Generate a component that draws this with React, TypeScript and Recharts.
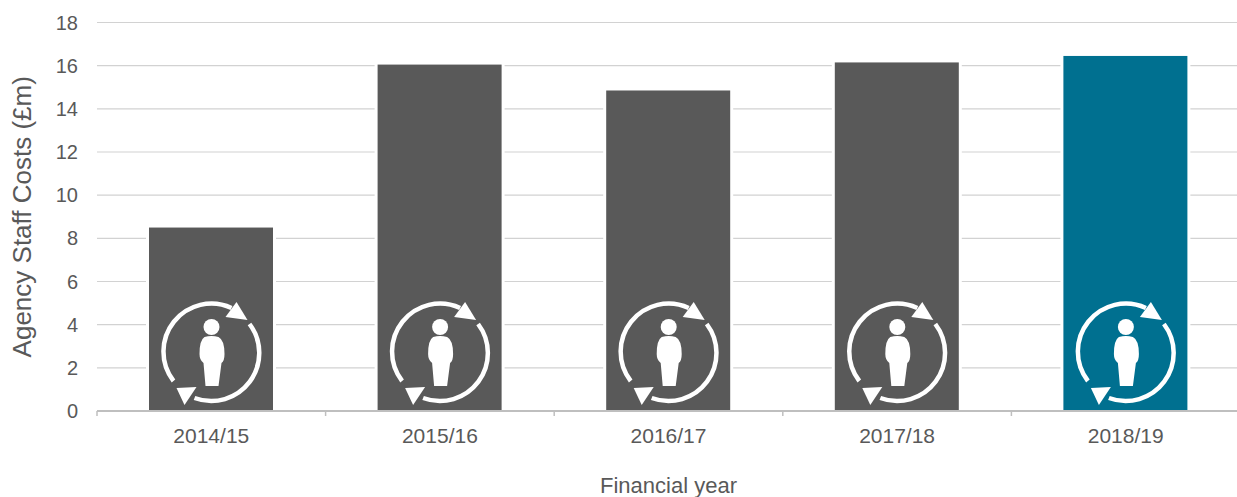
import React from "react";
import { BarChart, Bar, XAxis, YAxis, CartesianGrid, Label } from "recharts";

const years = ["2014/15", "2015/16", "2016/17", "2017/18", "2018/19"];
const costs = [8.5, 16.05, 14.85, 16.15, 16.45];
const barColors = ["#595959", "#595959", "#595959", "#595959", "#007090"];
const yTicks = [0, 2, 4, 6, 8, 10, 12, 14, 16, 18];

const data = years.map((year, i) => ({ year, cost: costs[i], color: barColors[i] }));

const CHART_W = 1240;
const LEFT = 97;
const STEP = (CHART_W - LEFT) / years.length;
const TEXT = "#595959";
const FONT = "'Liberation Sans', Arial, sans-serif";

// staff turnover pictogram: person inside two chasing arrows
function StaffIcon({ cx, cy }: { cx: number; cy: number }) {
  return (
    <g transform={`translate(${cx},${cy})`} fill="#fff" stroke="none">
      <circle cx={0} cy={-25} r={8} />
      <path d="M-7,-15 Q0,-17 7,-15 Q13,-12 13,2 Q13,9 10,11 L7,34 L-6,34 L-8,11 Q-12,8 -12,2 Q-12,-12 -7,-15 Z" />
      <g fill="none" stroke="#fff" strokeWidth={4.5}>
        <path d="M-38,29 A48,48 0 0 1 20,-44" />
        <path d="M38,-28 A48,48 0 0 1 -17,46" />
      </g>
      <path d="M36,-32 L25,-50 L14,-35 Z" />
      <path d="M-35,36 L-15,35 L-27,53 Z" />
    </g>
  );
}

function IconBar(props: any) {
  const { x, y, width, height, payload } = props;
  const bottom = y + height;
  return (
    <g>
      {/* white gap where the gridlines meet the bar */}
      <rect x={x - 3} y={y} width={width + 6} height={height - 1} fill="#fff" />
      <rect x={x} y={y} width={width} height={height - 1} fill={payload.color} />
      <StaffIcon cx={x + width / 2 + 0.5} cy={bottom - 59} />
    </g>
  );
}

// category label plus the tick mark on the left boundary of the category
function YearTick(props: any) {
  const { x, y, payload } = props;
  const edge = x - STEP / 2;
  return (
    <g>
      <line x1={edge} x2={edge} y1={411} y2={416} stroke="#bfbfbf" strokeWidth={1.5} />
      <text x={x} y={y + 24} textAnchor="middle" fill={TEXT} fontFamily={FONT} fontSize={21}>
        {payload.value}
      </text>
    </g>
  );
}

export default function App() {
  return (
    <div style={{ position: "absolute", left: 0, top: 0, width: 1237, height: 497, overflow: "hidden", background: "#fff" }}>
      <BarChart
        width={CHART_W}
        height={497}
        data={data}
        margin={{ top: 22.5, right: 0, bottom: 0, left: 0 }}
        barCategoryGap={0}
      >
        <CartesianGrid horizontal vertical={false} stroke="#d2d2d2" strokeWidth={1.2} />
        <XAxis
          dataKey="year"
          height={86}
          tickLine={false}
          axisLine={{ stroke: "#bfbfbf", strokeWidth: 2 }}
          tick={<YearTick />}
          interval={0}
        >
          <Label
            value="Financial year"
            position="insideBottom"
            offset={4}
            fill={TEXT}
            fontFamily={FONT}
            fontSize={22}
          />
        </XAxis>
        <YAxis
          width={97}
          domain={[0, 18]}
          ticks={yTicks}
          interval={0}
          tickLine={false}
          axisLine={false}
          tickMargin={13}
          tick={{ fill: TEXT, fontFamily: FONT, fontSize: 20 }}
        >
          <Label
            value="Agency Staff Costs (£m)"
            angle={-90}
            position="insideLeft"
            offset={0}
            dx={22}
            fill={TEXT}
            fontFamily={FONT}
            fontSize={26}
            style={{ textAnchor: "middle" }}
          />
        </YAxis>
        <Bar dataKey="cost" barSize={124} shape={<IconBar />} isAnimationActive={false} />
      </BarChart>
    </div>
  );
}
